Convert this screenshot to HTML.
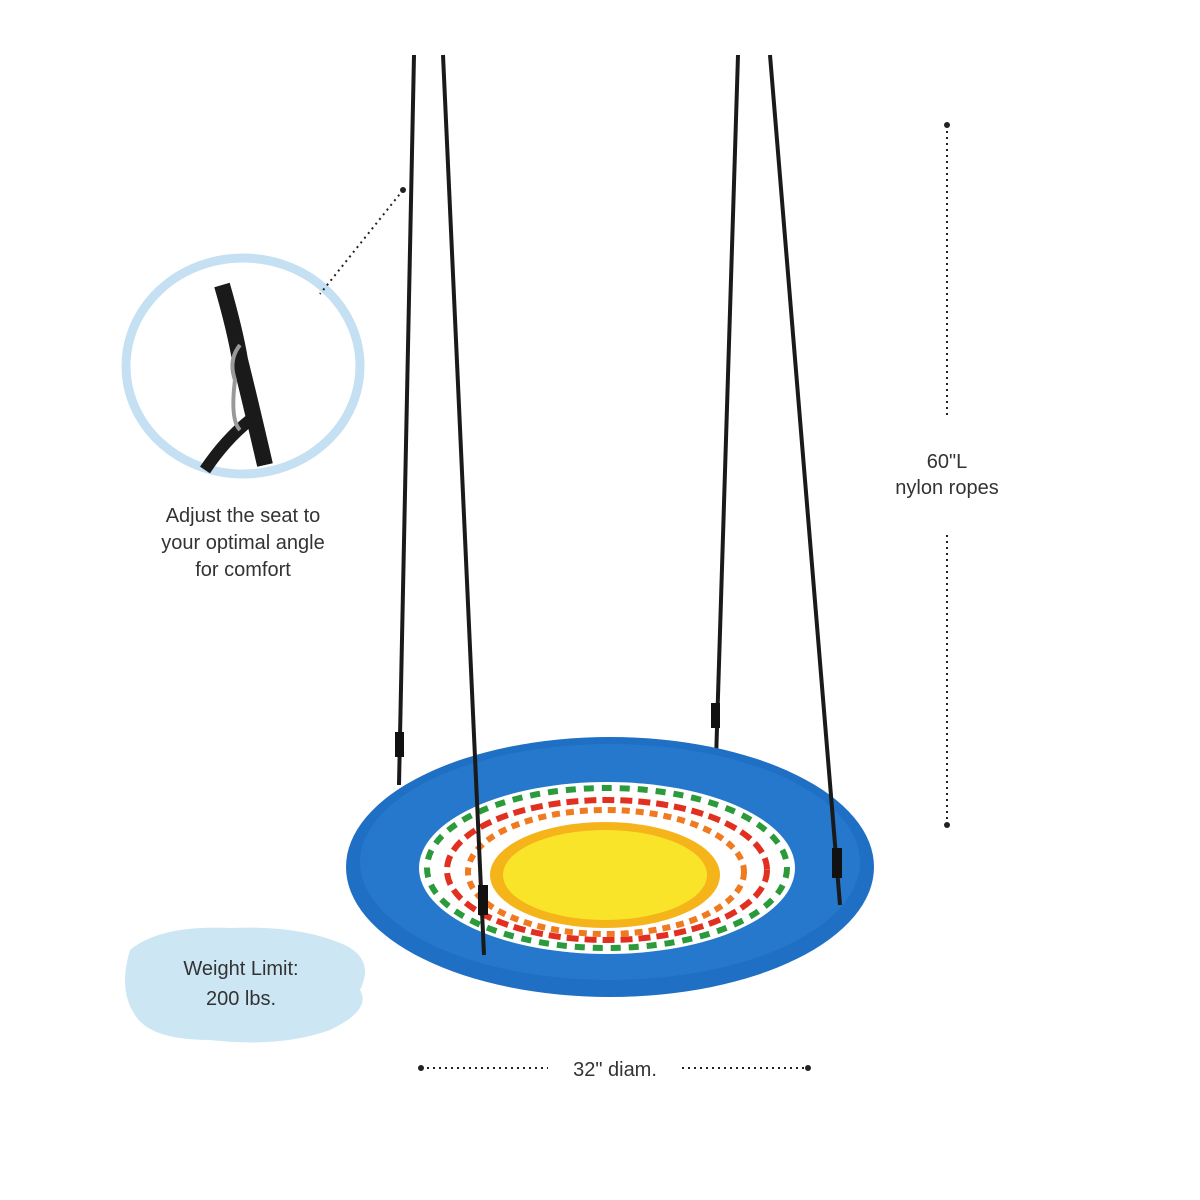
<!DOCTYPE html>
<html><head><style>
html,body{margin:0;padding:0;background:#fff;}
svg{display:block;}
text{font-family:"Liberation Sans",sans-serif;fill:#333;}
</style></head><body>
<svg width="1200" height="1200" viewBox="0 0 1200 1200">
<!-- weight blob -->
<path d="M130 950 Q160 925 230 928 Q300 925 345 945 Q375 960 360 990 Q372 1010 330 1030 Q280 1048 210 1040 Q150 1040 135 1015 Q118 990 130 950Z" fill="#cde6f4"/>
<text x="241" y="975" font-size="20" text-anchor="middle" fill="#222">Weight Limit:</text>
<text x="241" y="1005" font-size="20" text-anchor="middle" fill="#222">200 lbs.</text>
<!-- detail circle -->
<ellipse cx="243" cy="366" rx="117" ry="108" fill="none" stroke="#c4e0f2" stroke-width="9"/>
<path d="M222 285 Q235 330 240 360 Q250 400 265 465" stroke="#1a1a1a" stroke-width="16" fill="none"/>
<path d="M250 420 Q225 440 205 470" stroke="#1a1a1a" stroke-width="12" fill="none"/>
<path d="M240 345 Q228 360 235 380 Q230 420 240 430" stroke="#999" stroke-width="4" fill="none"/>
<line x1="403" y1="190" x2="320" y2="294" stroke="#222" stroke-width="2" stroke-dasharray="2 4"/>
<circle cx="403" cy="190" r="3" fill="#222"/>
<text x="243" y="522" font-size="20" text-anchor="middle">Adjust the seat to</text>
<text x="243" y="549" font-size="20" text-anchor="middle">your optimal angle</text>
<text x="243" y="576" font-size="20" text-anchor="middle">for comfort</text>
<!-- measurements -->
<line x1="947" y1="125" x2="947" y2="415" stroke="#222" stroke-width="2" stroke-dasharray="2 4"/>
<line x1="947" y1="535" x2="947" y2="825" stroke="#222" stroke-width="2" stroke-dasharray="2 4"/>
<circle cx="947" cy="125" r="3" fill="#222"/><circle cx="947" cy="825" r="3" fill="#222"/>
<text x="947" y="468" font-size="20" text-anchor="middle">60"L</text>
<text x="947" y="494" font-size="20" text-anchor="middle">nylon ropes</text>
<line x1="421" y1="1068" x2="548" y2="1068" stroke="#222" stroke-width="2" stroke-dasharray="2 4"/>
<line x1="682" y1="1068" x2="808" y2="1068" stroke="#222" stroke-width="2" stroke-dasharray="2 4"/>
<circle cx="421" cy="1068" r="3" fill="#222"/><circle cx="808" cy="1068" r="3" fill="#222"/>
<text x="615" y="1076" font-size="20" text-anchor="middle">32" diam.</text>
<!-- back ropes -->
<line x1="414" y1="55" x2="399" y2="785" stroke="#1a1a1a" stroke-width="4"/>
<line x1="738" y1="55" x2="716" y2="760" stroke="#1a1a1a" stroke-width="4"/>
<!-- seat -->
<ellipse cx="610" cy="867" rx="264" ry="130" fill="#1f6fc4"/>
<ellipse cx="610" cy="862" rx="250" ry="118" fill="#2a7fd2" opacity="0.6"/>
<ellipse cx="607" cy="868" rx="188" ry="86" fill="#fff"/>
<ellipse cx="607" cy="868" rx="180" ry="80" fill="none" stroke="#2a9a3a" stroke-width="6" stroke-dasharray="10 8"/>
<ellipse cx="607" cy="870" rx="160" ry="70" fill="none" stroke="#e23020" stroke-width="6" stroke-dasharray="12 6"/>
<ellipse cx="606" cy="872" rx="138" ry="62" fill="none" stroke="#f07a20" stroke-width="6" stroke-dasharray="8 6"/>
<ellipse cx="605" cy="875" rx="115" ry="53" fill="#f5b41a"/>
<ellipse cx="605" cy="875" rx="102" ry="45" fill="#fae42a"/>
<!-- front ropes -->
<line x1="443" y1="55" x2="484" y2="955" stroke="#1a1a1a" stroke-width="4"/>
<line x1="770" y1="55" x2="840" y2="905" stroke="#1a1a1a" stroke-width="4"/>
<rect x="395" y="732" width="9" height="25" fill="#111"/>
<rect x="711" y="703" width="9" height="25" fill="#111"/>
<rect x="478" y="885" width="10" height="30" fill="#111"/>
<rect x="832" y="848" width="10" height="30" fill="#111"/>
</svg>
</body></html>
